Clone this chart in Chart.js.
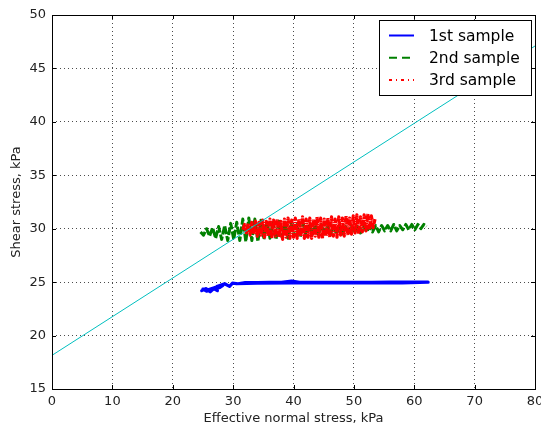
<!DOCTYPE html>
<html>
<head>
<meta charset="utf-8">
<script src="https://cdn.jsdelivr.net/npm/chart.js@4"></script>
<style>
  body { margin: 0; background: #fff; }
  canvas { display: block; }
</style>
</head>
<body>
<canvas id="myChart" width="541" height="428"></canvas>
<script>
// tick values
const xTicks = [0, 10, 20, 30, 40, 50, 60, 70, 80]
const yTicks = [15, 20, 25, 30, 35, 40, 45, 50]

// failure line
const fitX = [0, 80]
const fitY = [18.15, 47.1]

// 1st sample
const s1X = [24.8, 25.5, 26.2, 26.8, 27.4, 27.0, 26.0, 25.0, 25.6, 27.8, 28.3, 27.3, 28.6, 29.4, 29.9, 30.8, 32.0, 34.0, 36.0, 38.0, 39.7, 41.0, 44.0, 47.0, 50.0, 53.0, 56.0, 59.0, 62.3, 58.0, 52.0, 46.0, 40.0, 34.0, 30.5]
const s1Y = [24.2, 24.4, 24.1, 24.4, 24.2, 24.5, 24.3, 24.35, 24.15, 24.5, 24.7, 24.6, 24.85, 24.6, 24.9, 24.85, 24.95, 24.95, 24.97, 24.98, 25.1, 24.98, 24.97, 24.98, 24.99, 24.98, 25.0, 25.0, 25.0, 24.94, 24.93, 24.92, 24.93, 24.9, 24.85]

// 2nd sample
const s2X = [24.6, 25.1, 25.6, 26.1, 26.6, 27.1, 27.6, 28.1, 28.6, 29.1, 29.6, 30.1, 30.6, 31.1, 31.6, 32.1, 32.6, 33.1, 33.6, 34.1, 34.6, 35.1, 35.6, 36.1, 36.6, 37.1, 37.6, 38.1, 38.6, 39.1, 39.6, 40.1, 40.6, 41.1, 41.6, 42.1, 42.6, 43.1, 43.6, 44.1, 44.6, 45.1, 45.6, 46.1, 46.6, 47.1, 47.6, 48.1, 48.6, 49.1, 49.6, 50.1, 50.6, 51.1, 51.6, 52.1, 52.6, 53.1, 53.6, 54.1, 54.6, 55.1, 55.6, 56.1, 56.6, 57.1, 57.6, 58.1, 58.6, 59.1, 59.6, 60.1, 60.6, 61.1, 61.6, 62.0]
const s2Y = [29.7, 29.4, 30.0, 29.3, 30.1, 29.1, 30.2, 29.0, 30.3, 28.9,
             30.5, 29.0, 30.6, 28.9, 30.9, 28.8, 31.0, 28.9, 30.9, 28.8,
             30.8, 29.0, 30.7, 29.1, 30.6, 29.0, 30.7, 29.2, 30.6, 29.1,
             30.5, 29.3, 30.4, 29.2, 30.5, 29.3, 30.4, 29.4, 30.3, 29.4,
             30.4, 29.5, 30.3, 29.4, 30.3, 29.5, 30.3, 29.5, 30.2, 29.6,
             30.3, 29.6, 30.2, 29.6, 30.3, 29.7, 30.2, 29.7, 30.3, 29.7,
             30.3, 29.8, 30.3, 29.8, 30.4, 29.8, 30.3, 29.9, 30.4, 29.9,
             30.4, 29.9, 30.4, 30.0, 30.4, 30.2]

// 3rd sample
const s3X = [31.6, 31.9, 32.2, 32.5, 32.8, 33.1, 33.4, 33.7, 34.0, 34.3, 34.6, 34.9, 35.2, 35.5, 35.8, 36.1, 36.4, 36.7, 37.0, 37.3, 37.6, 37.9, 38.2, 38.5, 38.8, 39.1, 39.4, 39.7, 40.0, 40.3, 40.6, 40.9, 41.2, 41.5, 41.8, 42.1, 42.4, 42.7, 43.0, 43.3, 43.6, 43.9, 44.2, 44.5, 44.8, 45.1, 45.4, 45.7, 46.0, 46.3, 46.6, 46.9, 47.2, 47.5, 47.8, 48.1, 48.4, 48.7, 49.0, 49.3, 49.6, 49.9, 50.2, 50.5, 50.8, 51.1, 51.4, 51.7, 52.0, 52.3, 52.6, 52.9, 53.2, 53.5]
const s3Y = [29.9, 30.4, 29.6, 30.5, 29.4, 30.6, 29.5, 30.7, 29.3, 30.6,
             29.4, 30.8, 29.2, 30.7, 29.3, 30.9, 29.1, 30.8, 29.3, 30.9,
             29.2, 30.7, 29.0, 30.9, 29.2, 31.0, 29.1, 30.8, 29.2, 31.0,
             29.1, 30.9, 29.3, 31.1, 29.1, 30.9, 29.2, 31.0, 29.1, 30.9,
             29.3, 31.1, 29.2, 31.0, 29.1, 30.9, 29.3, 31.0, 29.2, 31.1,
             29.3, 30.9, 29.2, 31.1, 29.4, 31.0, 29.3, 31.2, 29.4, 31.0,
             29.5, 31.2, 29.6, 31.3, 29.5, 31.1, 29.7, 31.3, 29.8, 31.4,
             29.9, 31.2, 30.1, 30.9]

const pts = (xs, ys) => xs.map((x, i) => ({ x: x, y: ys[i] }))

const frame = {
  id: 'frame',
  afterDatasetsDraw(chart) {
    const { ctx, chartArea: a, scales } = chart
    ctx.save()
    ctx.strokeStyle = '#000'
    ctx.lineWidth = 1
    ctx.beginPath()
    xTicks.forEach(v => {
      const p = Math.round(scales.x.getPixelForValue(v)) + 0.5
      ctx.moveTo(p, a.bottom); ctx.lineTo(p, a.bottom - 4)
      ctx.moveTo(p, a.top); ctx.lineTo(p, a.top + 4)
    })
    yTicks.forEach(v => {
      const p = Math.round(scales.y.getPixelForValue(v)) + 0.5
      ctx.moveTo(a.left, p); ctx.lineTo(a.left + 4, p)
      ctx.moveTo(a.right, p); ctx.lineTo(a.right - 4, p)
    })
    ctx.stroke()
    ctx.strokeRect(Math.round(a.left) + 0.5, Math.round(a.top) + 0.5, Math.round(a.right - a.left), Math.round(a.bottom - a.top))
    ctx.restore()
  },
  afterDraw(chart) {
    const ctx = chart.ctx
    const sets = chart.data.datasets.filter(d => d.label)
    ctx.save()
    ctx.fillStyle = '#fff'
    ctx.fillRect(379.5, 20.5, 152, 75)
    ctx.strokeStyle = '#000'
    ctx.lineWidth = 1
    ctx.strokeRect(379.5, 20.5, 152, 75)
    sets.forEach((d, i) => {
      const y = 35.5 + i * 22.3
      ctx.strokeStyle = d.borderColor
      ctx.lineWidth = 2
      ctx.setLineDash(d.legendDash || [])
      ctx.beginPath()
      ctx.moveTo(389, y); ctx.lineTo(414, y)
      ctx.stroke()
      ctx.setLineDash([])
      ctx.fillStyle = '#000'
      ctx.font = '15.5px "DejaVu Sans"'
      ctx.textBaseline = 'middle'
      ctx.fillText(d.label, 429, y + 1)
    })
    ctx.restore()
  }
}

const axisFont = { family: 'DejaVu Sans', size: 13 }

new Chart(document.querySelector('#myChart'), {
  type: 'scatter',
  data: {
    datasets: [
      { data: pts(fitX, fitY), showLine: true, borderColor: '#00bfbf', borderWidth: 1, pointRadius: 0, order: 0 },
      { label: '1st sample', data: pts(s1X, s1Y), showLine: true, borderColor: '#0000ff', borderWidth: 3.2, borderJoinStyle: 'round', borderCapStyle: 'round', pointRadius: 0, order: 3 },
      { label: '2nd sample', data: pts(s2X, s2Y), showLine: true, borderColor: '#008000', borderWidth: 3, borderJoinStyle: 'round', borderDash: [8, 2], legendDash: [8, 5], pointRadius: 0, order: 2 },
      { label: '3rd sample', data: pts(s3X, s3Y), showLine: true, borderColor: '#ff0000', borderWidth: 3.2, borderJoinStyle: 'round', borderDash: [6, 1, 1, 1], legendDash: [3, 4, 1, 4], pointRadius: 0, order: 1 }
    ]
  },
  options: {
    responsive: false,
    animation: false,
    events: [],
    layout: { padding: { top: 15, right: 6, left: 0, bottom: 0 }, autoPadding: false },
    plugins: { legend: { display: false }, tooltip: { enabled: false } },
    scales: {
      x: {
        type: 'linear', min: 0, max: 80,
        afterFit: s => { s.height = 39; s.paddingLeft = 0; s.paddingRight = 0 },
        afterBuildTicks: s => { s.ticks = xTicks.map(v => ({ value: v })) },
        grid: { color: 'rgba(0,0,0,0.7)', lineWidth: 1, drawTicks: false },
        border: { display: false, dash: [1, 3] },
        ticks: { padding: 5, color: '#222', font: axisFont },
        title: { display: true, text: 'Effective normal stress, kPa', color: '#222', font: axisFont, padding: { top: 0, bottom: 2 } }
      },
      y: {
        type: 'linear', min: 15, max: 50,
        afterFit: s => { s.width = 52; s.paddingTop = 0; s.paddingBottom = 0 },
        afterBuildTicks: s => { s.ticks = yTicks.map(v => ({ value: v })) },
        grid: { color: 'rgba(0,0,0,0.7)', lineWidth: 1, drawTicks: false },
        border: { display: false, dash: [1, 3] },
        ticks: { padding: 6, color: '#222', font: axisFont },
        title: { display: true, text: 'Shear stress, kPa', color: '#222', font: axisFont, padding: { top: 9, bottom: 0 } }
      }
    }
  },
  plugins: [frame]
})
</script>
</body>
</html>
